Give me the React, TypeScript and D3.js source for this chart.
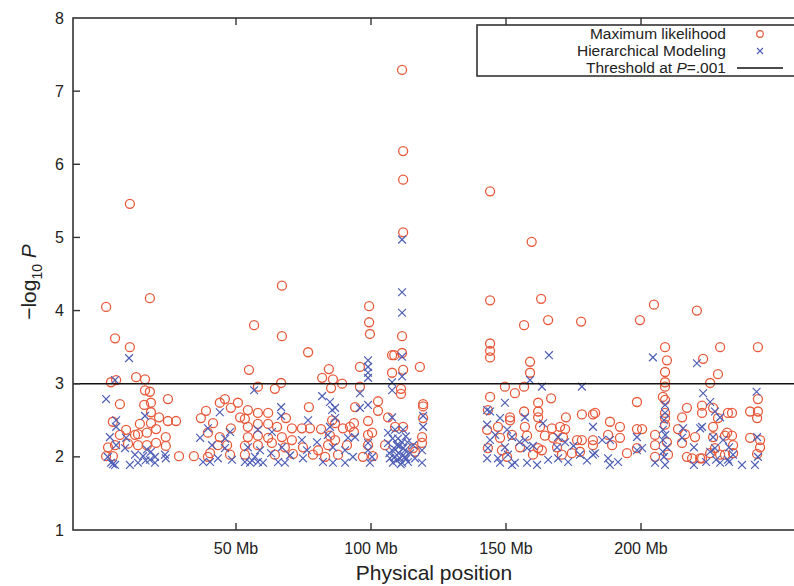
import * as d3 from "d3";

// chromosome position (Mb) and -log10 P
const mlPoints: [number, number][] = [
  [1.9, 4.05], [5.2, 3.62], [10.7, 5.46], [10.7, 3.5], [18.1, 4.17],
  [13, 3.09], [16.3, 3.06], [3.7, 3.02], [5.6, 3.05], [16.3, 2.91], [18.1, 2.89], [7, 2.72], [24.8, 2.79],
  [16, 2.71], [18.5, 2.74], [18.5, 2.61], [21.5, 2.54], [24.8, 2.49], [27.8, 2.49], [37, 2.53], [38.9, 2.63],
  [4.4, 2.48], [9.3, 2.37], [14.4, 2.45], [18.5, 2.46], [20.4, 2.38], [7, 2.3], [12.6, 2.3], [13.7, 2.31],
  [17, 2.33], [24, 2.27], [2.6, 2.13], [5.2, 2.16], [10, 2.18], [13.7, 2.16], [17, 2.16], [20.4, 2.19],
  [24, 2.15], [1.9, 2.01], [4.4, 2.01], [28.9, 2.01], [34.4, 2.01], [39.6, 2.0],
  [56.7, 3.8], [67, 4.34], [67, 3.65], [76.7, 3.43], [54.8, 3.19], [66.7, 3.01], [64.4, 2.93], [58.1, 2.96],
  [81.9, 3.08], [84.4, 3.2], [85.9, 3.06], [85.2, 2.94], [44, 2.74], [45.9, 2.79], [50.7, 2.74], [48.1, 2.67],
  [54.4, 2.64], [58.1, 2.6], [61.9, 2.6], [51.5, 2.54], [53.3, 2.52], [68.5, 2.53], [77, 2.68], [41.5, 2.46],
  [48.1, 2.39], [54.4, 2.41], [58.1, 2.45], [61.9, 2.45], [65.2, 2.41], [70.7, 2.39], [74.4, 2.39], [77.4, 2.39],
  [81.5, 2.38], [85.6, 2.5], [39.6, 2.33], [44, 2.27], [54.4, 2.27], [58.1, 2.29], [61.9, 2.26], [67, 2.27],
  [70.7, 2.23], [84.8, 2.29], [43.3, 2.16], [46.7, 2.16], [53.3, 2.15], [58.1, 2.16], [63.3, 2.19], [68.1, 2.13],
  [74.8, 2.13], [80.4, 2.09], [84.1, 2.16], [40.4, 2.05], [47.8, 2.03], [53.3, 2.03], [64.4, 2.03], [71.1, 2.04],
  [78.5, 2.03], [83, 2.0],
  [99.3, 4.06], [99.3, 3.84], [99.6, 3.68], [111.5, 7.29], [111.9, 6.18], [111.9, 5.79], [111.9, 5.07],
  [111.5, 3.65], [111.5, 3.42], [111.9, 3.19], [107.8, 3.39], [108.6, 3.39], [95.9, 3.23], [118.1, 3.23],
  [107.8, 3.15], [89.3, 3.0], [95.9, 2.96], [111.1, 2.93], [111.1, 2.86], [102.6, 2.76], [94.1, 2.68],
  [102.6, 2.63], [119.3, 2.72], [119.3, 2.69], [106.3, 2.54], [98.9, 2.49], [86.7, 2.46], [89.6, 2.39],
  [92.2, 2.41], [93.7, 2.46], [93.7, 2.34], [98.9, 2.3], [100.4, 2.33], [108.9, 2.41], [111.9, 2.41],
  [119.3, 2.53], [118.9, 2.27], [86.7, 2.23], [91.1, 2.16], [98.9, 2.16], [105.2, 2.16], [115.6, 2.12],
  [118.9, 2.19], [97, 2.0], [100.7, 2.01], [116.3, 2.07], [87.8, 2.03],
  [144.1, 5.63], [144.1, 4.14], [144.1, 3.55], [144.1, 3.45], [144.1, 3.36], [159.5, 4.94], [163, 4.16],
  [156.7, 3.8], [165.6, 3.87], [177.8, 3.85], [158.9, 3.3], [158.9, 3.15], [156.7, 2.96], [149.6, 2.96],
  [153.3, 2.87], [144.1, 2.82], [161.9, 2.74], [166.7, 2.8], [143.3, 2.64], [151.5, 2.54], [151.5, 2.5],
  [156.7, 2.62], [161.9, 2.62], [161.9, 2.54], [172.2, 2.54], [178.1, 2.58], [182.2, 2.58], [147, 2.41],
  [157, 2.41], [162.6, 2.41], [167, 2.39], [170, 2.41], [171.9, 2.38], [143, 2.37], [147.8, 2.26], [152.2, 2.3],
  [157.8, 2.29], [164.4, 2.29], [167.4, 2.26], [171.1, 2.27], [176.3, 2.23], [178.1, 2.23], [182.2, 2.23],
  [182.2, 2.16], [143.3, 2.12], [148.5, 2.09], [155.2, 2.13], [161.9, 2.12], [163.3, 2.09], [168.9, 2.13],
  [177.4, 2.07], [150.4, 2.0], [160, 2.03], [170.7, 2.03], [174.4, 2.05],
  [199.6, 3.87], [204.8, 4.08], [220.7, 4.0], [229.3, 3.5], [243.3, 3.5], [208.9, 3.5], [209.6, 3.32],
  [208.9, 3.16], [208.9, 3.02], [208.9, 2.96], [208.1, 2.82], [208.9, 2.78], [223, 3.34], [228.5, 3.13],
  [225.6, 3.01], [198.5, 2.75], [222.6, 2.7], [226.7, 2.67], [222.6, 2.6], [232.2, 2.6], [217, 2.67],
  [215.2, 2.54], [208.9, 2.6], [208.9, 2.53], [188.5, 2.48], [192.2, 2.41], [198.5, 2.38], [200.4, 2.38],
  [208.9, 2.44], [213.7, 2.38], [216.3, 2.31], [220, 2.27], [226.7, 2.41], [226.7, 2.27], [231.9, 2.33],
  [205.2, 2.3], [187.8, 2.3], [192.2, 2.26], [189.3, 2.16], [209.6, 2.2], [215.2, 2.19], [205.2, 2.16],
  [198.5, 2.12], [194.8, 2.05], [205.2, 2.0], [210, 2.03], [217, 2.0], [218.9, 1.98], [222.6, 1.98],
  [225.6, 2.05], [231.1, 2.03], [183, 2.6], [243.3, 2.79], [233.7, 2.6], [240.4, 2.62], [243.3, 2.62],
  [243, 2.53], [228.5, 2.53], [231.1, 2.29], [233.7, 2.29], [240.4, 2.26], [244.1, 2.23], [234.1, 2.16],
  [244.1, 2.13], [227.4, 2.12], [243, 2.04], [229.3, 2.03], [234.1, 2.05], [221.9, 1.98],
];

const hmPoints: [number, number][] = [
  [10.4, 3.35], [5.2, 3.05], [1.9, 2.79], [16.3, 2.56], [5.6, 2.5], [5.6, 2.41], [3.3, 2.27], [9.3, 2.26],
  [5.6, 2.16], [8.9, 2.12], [12.6, 2.03], [15.6, 2.01], [18.5, 2.07], [20, 2.0], [23.7, 2.03], [3.7, 1.92],
  [5.2, 1.89], [10.7, 1.89], [13.7, 1.92], [18.1, 1.96], [20, 1.92], [24, 1.98], [36.7, 2.26], [37.8, 1.93],
  [4.4, 1.9], [17, 2.1], [16.5, 1.95], [2.5, 2.0],
  [56.7, 2.91], [81.9, 2.83], [84.8, 2.75], [44, 2.61], [66.7, 2.68], [66.7, 2.56], [76.7, 2.5], [85.6, 2.64],
  [39.6, 2.39], [47.8, 2.34], [58.1, 2.37], [63.3, 2.34], [74.4, 2.23], [84.8, 2.41], [41.1, 2.16],
  [45.9, 2.12], [54.4, 2.13], [58.9, 2.09], [67, 2.13], [76.3, 2.09], [85.9, 2.13], [40.4, 1.93], [43.3, 1.98],
  [48.5, 1.96], [53.3, 1.93], [55.2, 1.92], [58.1, 1.93], [65.6, 1.93], [68.1, 1.92], [74.8, 1.98],
  [82.2, 1.93], [85.9, 1.92], [57, 2.0], [56, 1.95], [60, 1.92], [63, 2.05], [70, 2.02], [80, 2.2], [84, 2.3],
  [46, 2.25],
  [111.5, 4.97], [111.5, 4.25], [111.5, 3.97], [111.5, 3.37], [111.5, 3.1], [98.9, 3.32], [98.9, 3.23],
  [98.9, 3.15], [98.9, 3.08], [107.8, 3.02], [107.8, 2.91], [95.9, 2.87], [95.9, 2.67], [98.9, 2.71],
  [107.8, 2.54], [119.3, 2.56], [119.3, 2.41], [86.7, 2.67], [86.7, 2.53], [91.5, 2.26], [94.1, 2.27],
  [90.4, 2.09], [93.3, 2.0], [90.4, 1.92], [98.9, 2.19], [98.9, 2.09], [100.4, 2.0], [99.6, 1.92],
  [106.3, 2.33], [108.9, 2.37], [111.9, 2.37], [106.3, 2.19], [107.8, 2.09], [109.6, 2.16], [111.5, 2.2],
  [112.6, 2.09], [107, 1.98], [108.9, 2.0], [110.7, 1.98], [112.6, 2.0], [108.1, 1.92], [111.5, 1.92],
  [113.7, 1.93], [115.6, 2.16], [118.9, 2.09], [118.9, 1.92], [116.3, 1.98], [109.5, 1.95], [110.2, 2.05],
  [111, 1.9], [112, 2.12], [113, 1.97], [110, 2.25], [112.9, 2.28], [109, 2.1], [111.8, 2.02], [114.5, 2.05],
  [106.8, 2.05], [110.5, 2.15], [113.5, 2.2], [108, 2.25],
  [165.9, 3.39], [158.9, 3.05], [163.3, 2.96], [178.1, 2.96], [149.6, 2.74], [143, 2.64], [144.1, 2.62],
  [147.8, 2.53], [157, 2.54], [143, 2.44], [163.7, 2.46], [150.4, 2.37], [152.2, 2.27], [182.2, 2.41],
  [144.1, 2.23], [157, 2.23], [169.3, 2.27], [171.9, 2.2], [143.3, 2.12], [149.6, 2.13], [157.8, 2.12],
  [168.9, 2.13], [182.2, 2.03], [143, 1.98], [147, 1.98], [150.7, 2.03], [153.3, 1.92], [157.8, 1.92],
  [161.5, 1.89], [165.6, 1.96], [169.3, 1.98], [173, 1.93], [177.4, 2.03], [147.8, 1.92], [152.2, 1.89],
  [146, 2.3], [155, 2.2], [160, 2.15], [175, 2.15], [180, 1.95],
  [204.4, 3.36], [220.7, 3.28], [242.8, 2.89], [223, 2.87], [225.6, 2.75], [208.9, 2.71], [208.9, 2.6],
  [215.6, 2.39], [222.6, 2.41], [229.3, 2.54], [227.4, 2.62], [185.6, 2.23], [188.5, 2.23], [198.5, 2.27],
  [208.1, 2.37], [208.1, 2.23], [209.6, 2.13], [208.1, 2.07], [215.2, 2.26], [198.5, 2.09], [200.4, 2.12],
  [230.4, 2.23], [227.4, 2.12], [219.6, 2.13], [187.8, 1.98], [191.5, 1.93], [188.5, 1.89], [205.2, 1.92],
  [208.9, 1.89], [219.6, 1.89], [224.1, 1.93], [229.3, 1.92], [232.2, 1.96], [183, 2.05], [221.9, 2.39],
  [226.7, 2.27], [243, 2.27], [232.6, 2.13], [234.1, 2.03], [225.6, 2.07], [227.8, 1.96], [237.4, 1.89],
  [242.2, 1.89], [243.3, 2.0], [232.6, 1.93], [208.5, 2.5], [209, 2.3], [208.5, 2.0],
];

const xTicks = [50, 100, 150, 200];
const yTicks = [1, 2, 3, 4, 5, 6, 7, 8];
const threshold = 3; // -log10(0.001)

const width = 794;
const height = 586;
const left = 73;
const right = 796;
const top = 18;
const bottom = 530;

const font = "'Liberation Sans', Arial, Helvetica, sans-serif";
const red = "#e8593a";
const blue = "#4f5fb6";
const frame = "#333";

const App = () => {
  const x = d3.scaleLinear().domain([-10.37, 257.4]).range([left, right]);
  const y = d3.scaleLinear().domain([1, 8]).range([bottom, top]);
  const r = 4.5;
  const c = 3.9;

  return (
    <svg
      width={width}
      height={height}
      viewBox={`0 0 ${width} ${height}`}
      style={{ position: "absolute", left: 0, top: 0, background: "#fff" }}
      fontFamily={font}
    >
      <g className="ml">
        {mlPoints.map((d, i) => (
          <circle key={i} cx={x(d[0])} cy={y(d[1])} r={r} fill="none" stroke={red} strokeWidth={1.3} />
        ))}
      </g>
      <g className="hm" stroke={blue} strokeWidth={1.2}>
        {hmPoints.map((d, i) => {
          const px = x(d[0]);
          const py = y(d[1]);
          return (
            <path key={i} d={`M${px - c},${py - c}L${px + c},${py + c}M${px - c},${py + c}L${px + c},${py - c}`} />
          );
        })}
      </g>

      <line x1={left} x2={right} y1={y(threshold)} y2={y(threshold)} stroke="#111" strokeWidth={1.5} />

      <rect x={left} y={top} width={right - left} height={bottom - top} fill="none" stroke={frame} strokeWidth={1.6} />

      <g className="y-ticks">
        {yTicks.map((t) => (
          <g key={t}>
            {t > 1 && t < 8 && (
              <line x1={left} x2={left + 7} y1={y(t)} y2={y(t)} stroke={frame} strokeWidth={1.4} />
            )}
            <text x={64} y={y(t)} dy="0.35em" textAnchor="end" fontSize={16} fill="#222">
              {t}
            </text>
          </g>
        ))}
      </g>
      <g className="x-ticks">
        {xTicks.map((t) => (
          <g key={t}>
            <line x1={x(t)} x2={x(t)} y1={bottom} y2={bottom - 7} stroke={frame} strokeWidth={1.4} />
            <line x1={x(t)} x2={x(t)} y1={top} y2={top + 7} stroke={frame} strokeWidth={1.4} />
            <text x={x(t)} y={554} textAnchor="middle" fontSize={16} fill="#222">
              {`${t} Mb`}
            </text>
          </g>
        ))}
      </g>

      <text x={434} y={580} textAnchor="middle" fontSize={21} fill="#222">
        Physical position
      </text>
      <text transform="translate(36,282) rotate(-90)" textAnchor="middle" fontSize={21} fill="#222">
        −log
        <tspan fontSize={14} dy={6}>10</tspan>
        <tspan dy={-6}> </tspan>
        <tspan fontStyle="italic">P</tspan>
      </text>

      <g className="legend">
        <rect x={477} y={25} width={330} height={51} fill="#fff" stroke={frame} strokeWidth={1.6} />
        <text x={726} y={39} textAnchor="end" fontSize={15.5} fill="#222">Maximum likelihood</text>
        <text x={726} y={56} textAnchor="end" fontSize={15.5} fill="#222">Hierarchical Modeling</text>
        <text x={726} y={73} textAnchor="end" fontSize={15.5} fill="#222">
          Threshold at <tspan fontStyle="italic">P</tspan>=.001
        </text>
        <circle cx={760} cy={34} r={3.3} fill="none" stroke={red} strokeWidth={1.2} />
        <path d={`M${757},${48}L${763},${54}M${757},${54}L${763},${48}`} stroke={blue} strokeWidth={1.1} />
        <line x1={737} x2={783} y1={68} y2={68} stroke="#111" strokeWidth={1.5} />
      </g>
    </svg>
  );
};

export default App;
